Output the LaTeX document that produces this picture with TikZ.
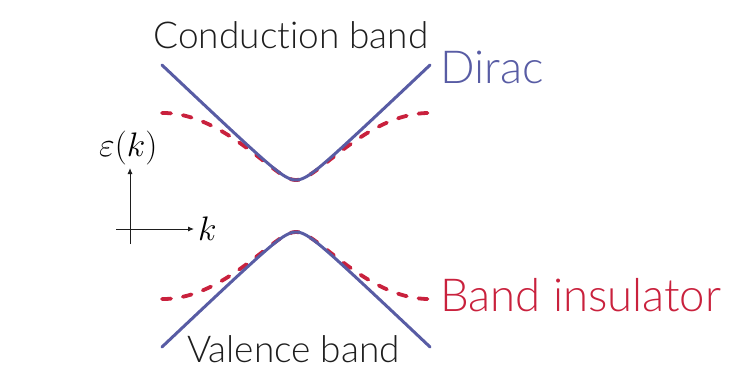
\RequirePackage{fix-cm}
\documentclass[tikz,border=0pt]{standalone}
\usepackage{fontspec}
\setmainfont{Lato}[UprightFont={* Light}, Ligatures=CommonOff]
\usepackage{tikz}
\usetikzlibrary{arrows.meta,positioning,calc}
\usepackage{xcolor}
\definecolor{diracblue}{RGB}{88,92,164}
\definecolor{insred}{RGB}{201,33,61}
\definecolor{labelgray}{RGB}{30,30,30}

\begin{document}
\begin{tikzpicture}[x=1pt,y=-1pt, >=Latex]
  \tikzstyle{dirac}=[line width=3pt, draw=diracblue, line cap=round]
  \tikzstyle{insulator}=[line width=3.8pt, draw=insred, line cap=round, dash pattern=on 9pt off 12pt]
  \tikzstyle{bandlabel}=[inner sep=0pt, text=labelgray, font=\fontsize{37}{41}\selectfont]
  \tikzstyle{modellabel}=[inner sep=0pt, font=\fontsize{45.5}{50}\selectfont]
  \tikzstyle{axis}=[->, line width=0.9pt, draw=labelgray, >={Latex[length=6pt,width=5pt]}]
  \tikzstyle{mathlabel}=[inner sep=0pt, anchor=base west, text=black, font=\fontsize{34}{38}\selectfont]
  \useasboundingbox (0,0) rectangle (730,391);
  % band insulator (dashed, underneath)
  \draw[insulator] plot[domain=-134:134, samples=121] ({296+\x},{180-(sqrt(169+(79*sin(0.6717*\x))*(79*sin(0.6717*\x)))-13)});
  \draw[insulator] plot[domain=-134:134, samples=121] ({296+\x},{232+(sqrt(169+(79*sin(0.6717*\x))*(79*sin(0.6717*\x)))-13)});
  % Dirac bands
  \draw[dirac] plot[domain=-134:134, samples=121] ({296+\x},{180-(sqrt(169+(0.95*\x)*(0.95*\x))-13)});
  \draw[dirac] plot[domain=-134:134, samples=121] ({296+\x},{232+(sqrt(169+(0.95*\x)*(0.95*\x))-13)});
  % labels
  \node[bandlabel, anchor=base] (cond) at (291,48) {Conduction band};
  \node[bandlabel, anchor=base] (val) at (293.5,362) {Valence band};
  \node[modellabel, anchor=base west, text=diracblue] (dirac) at (440,83) {Dirac};
  \node[modellabel, anchor=base west, text=insred] (ins) at (440,311) {Band insulator};
  % axes
  \coordinate (orig) at (130,229);
  \coordinate (ybot) at (130,244);
  \coordinate (ytop) at (130,168);
  \coordinate (xleft) at (116,229);
  \coordinate (xright) at (194,229);
  \draw[axis] (ybot) -- (ytop);
  \draw[axis] (xleft) -- (xright);
  \node[mathlabel] (klab) at (198,240) {$k$};
  \node[mathlabel] (elab) at (99,156) {$\varepsilon(k)$};
\end{tikzpicture}
\end{document}
